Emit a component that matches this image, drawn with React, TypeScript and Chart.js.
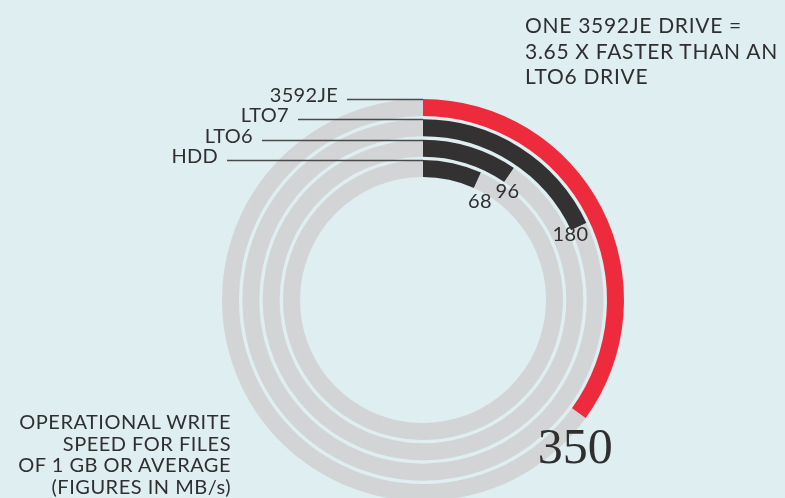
import React, { useEffect, useRef } from "react";
import { Chart, registerables } from "chart.js";

Chart.register(...registerables);

// ---- data ----
const categories = ["3592JE", "LTO7", "LTO6", "HDD"];
const speeds = [350, 180, 96, 68];
const valueLabels = ["350", "180", "96", "68"];
const scaleMax = 1000;

const headline = ["ONE 3592JE DRIVE =", "3.65 X FASTER THAN AN", "LTO6 DRIVE"];
const footnote = ["OPERATIONAL WRITE", "SPEED FOR FILES", "OF 1 GB OR AVERAGE", "(FIGURES IN MB/s)"];

// ---- styling / layout ----
const BG = "#dfeef1";
const TEXT = "#2f2f30";
const ringColors = ["#ee2b3c", "#333132", "#333132", "#333132"];
const trackColor = "#d3d4d6";
const ringWeight = 17;
const gapWeight = 3.33;
const SANS = "Lato, 'Open Sans', sans-serif";

const leaderStartX = [347, 298, 262, 227];
const valueRadialOffset = [10, -2, -5, -8];
const valueAngleOffsetDeg = [7.8, 1, 3.1, 5.2];

const labelPlugin = {
  id: "ringLabels",
  afterDatasetsDraw(chart: any) {
    const ctx = chart.ctx as CanvasRenderingContext2D;
    ctx.save();
    categories.forEach((cat, i) => {
      const meta = chart.getDatasetMeta(i * 2);
      const arc = meta.data[0] as any;
      const { x, y, innerRadius, outerRadius, endAngle } = arc.getProps(
        ["x", "y", "innerRadius", "outerRadius", "endAngle"],
        true
      );
      const ly = Math.round(y - outerRadius) + 0.5;
      // leader line
      ctx.strokeStyle = "#4a4a4b";
      ctx.lineWidth = 1.3;
      ctx.beginPath();
      ctx.moveTo(leaderStartX[i], ly);
      ctx.lineTo(x, ly);
      ctx.stroke();
      // category label
      ctx.fillStyle = TEXT;
      ctx.font = `20px ${SANS}`;
      (ctx as any).letterSpacing = "0.3px";
      ctx.textAlign = "right";
      ctx.textBaseline = "alphabetic";
      ctx.fillText(cat, leaderStartX[i] - 9, ly + 2.5);
      // value label
      const a = endAngle + (valueAngleOffsetDeg[i] * Math.PI) / 180;
      const r = (i === 0 ? outerRadius : innerRadius) + valueRadialOffset[i];
      const cx = x + r * Math.cos(a);
      const cy = y + r * Math.sin(a);
      ctx.textAlign = "center";
      if (i === 0) {
        (ctx as any).letterSpacing = "0px";
        ctx.font = `50px 'Liberation Serif', 'Times New Roman', serif`;
        ctx.fillText(valueLabels[i], cx, cy + 17);
      } else {
        ctx.font = `20px ${SANS}`;
        ctx.fillText(valueLabels[i], cx, cy + 7.5);
      }
    });
    ctx.restore();
  },
};

export default function App() {
  const canvasRef = useRef<HTMLCanvasElement | null>(null);

  useEffect(() => {
    if (!canvasRef.current) return;
    const datasets: any[] = [];
    categories.forEach((cat, i) => {
      datasets.push({
        label: cat,
        data: [speeds[i], scaleMax - speeds[i]],
        backgroundColor: [ringColors[i], trackColor],
        borderWidth: 0,
        weight: ringWeight,
      });
      if (i < categories.length - 1) {
        datasets.push({
          label: "",
          data: [scaleMax],
          backgroundColor: ["rgba(0,0,0,0)"],
          borderWidth: 0,
          weight: gapWeight,
        });
      }
    });
    const chart = new Chart(canvasRef.current, {
      type: "doughnut",
      data: { labels: ["value", "rest"], datasets },
      options: {
        responsive: false,
        animation: false,
        events: [],
        cutout: `${(123 / 201) * 100}%`,
        radius: "100%",
        layout: { padding: { left: 222, right: 161, top: 99, bottom: 59 } },
        plugins: { legend: { display: false }, tooltip: { enabled: false } },
      } as any,
      plugins: [labelPlugin],
    });
    return () => chart.destroy();
  }, []);

  return (
    <div
      style={{
        position: "absolute",
        left: 0,
        top: 0,
        width: 785,
        height: 498,
        overflow: "hidden",
        background: BG,
        fontFamily: SANS,
        color: TEXT,
      }}
    >
      <canvas
        ref={canvasRef}
        width={785}
        height={560}
        style={{ position: "absolute", left: 0, top: 0, width: 785, height: 560 }}
      />
      <div
        style={{
          position: "absolute",
          left: 525,
          top: 12,
          fontSize: 21,
          lineHeight: "25.5px",
          letterSpacing: "0.7px",
          whiteSpace: "nowrap",
        }}
      >
        {headline.map((t) => (
          <div key={t}>{t}</div>
        ))}
      </div>
      <div
        style={{
          position: "absolute",
          right: 785 - 231,
          top: 411,
          fontSize: 20,
          lineHeight: "21.7px",
          letterSpacing: "0.5px",
          textAlign: "right",
          whiteSpace: "nowrap",
        }}
      >
        {footnote.map((t) => (
          <div key={t}>{t}</div>
        ))}
      </div>
    </div>
  );
}
